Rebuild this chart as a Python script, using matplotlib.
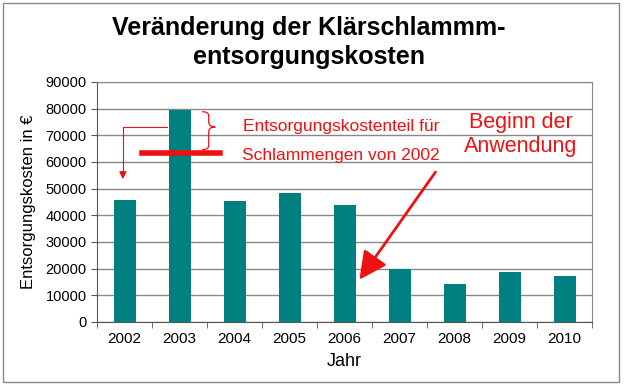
import matplotlib.pyplot as plt
from matplotlib.patches import Rectangle, PathPatch
from matplotlib.path import Path

plt.rcParams['font.family'] = ['Liberation Sans', 'DejaVu Sans']

years = ['2002', '2003', '2004', '2005', '2006', '2007', '2008', '2009', '2010']
costs = [45700, 79500, 45400, 48400, 43900, 19900, 14200, 18700, 17200]
share_2002 = 63300

fig = plt.figure(figsize=(6.3, 3.86), dpi=100)
fig.patches.append(Rectangle((0.004, 0.01), 0.978, 0.983, transform=fig.transFigure,
                             fill=False, edgecolor='#888888', linewidth=1))
ax = fig.add_axes([0.154, 0.166, 0.786, 0.622])

x = range(len(years))
ax.bar(x, costs, width=0.4, color='#008080', zorder=3)

ax.set_ylim(0, 90000)
ax.set_xlim(-0.5, len(years) - 0.5)
ax.set_yticks(range(0, 90001, 10000))
ax.set_yticklabels([str(v) for v in range(0, 90001, 10000)], fontsize=10.5)
ax.set_xticks(list(x))
ax.set_xticklabels(years, fontsize=11)
ax.set_xticks([i - 0.5 for i in range(len(years) + 1)], minor=True)
ax.tick_params(axis='x', which='major', length=0, pad=7)
ax.tick_params(axis='x', which='minor', length=4, color='#555555')
ax.tick_params(axis='y', length=4, color='#555555')
ax.grid(axis='y', color='#888888', linewidth=1, zorder=0)
for side in ['top', 'right']:
    ax.spines[side].set_color('#888888')
ax.spines['left'].set_color('#555555')
ax.spines['bottom'].set_color('#555555')

ax.set_xlabel('Jahr', fontsize=13, labelpad=5)
ax.set_ylabel('Entsorgungskosten in €', fontsize=12, labelpad=7)
fig.text(0.49, 0.928, 'Veränderung der Klärschlammm-', ha='center', va='center',
         fontsize=18, fontweight='bold')
fig.text(0.49, 0.852, 'entsorgungskosten', ha='center', va='center',
         fontsize=18, fontweight='bold')

red = '#ee1111'
# share of 2003 costs attributable to 2002 sludge volume
ax.plot([0.32, 1.74], [share_2002, share_2002], color=red, linewidth=4, zorder=4)

# curly brace next to the 2003 bar
bx0, bx1, btop, bmid, bbot = 1.41, 1.65, 78800, 73100, 64600
brace = Path([(bx0, btop), (bx0 + 0.12, btop), (bx0 + 0.12, btop - 1500), (bx0 + 0.12, bmid + 1800),
              (bx0 + 0.12, bmid), (bx1, bmid),
              (bx0 + 0.12, bmid), (bx0 + 0.12, bmid - 1800), (bx0 + 0.12, bbot + 1500),
              (bx0 + 0.12, bbot), (bx0, bbot)],
             [Path.MOVETO, Path.CURVE3, Path.CURVE3, Path.LINETO,
              Path.CURVE3, Path.CURVE3,
              Path.CURVE3, Path.CURVE3, Path.LINETO,
              Path.CURVE3, Path.CURVE3])
ax.add_patch(PathPatch(brace, fill=False, edgecolor=red, linewidth=0.9, zorder=4))

ax.plot([0.77, -0.03, -0.03], [73100, 73100, 55000], color=red, linewidth=0.8, zorder=4)
ax.annotate('', xy=(-0.03, 52500), xytext=(-0.03, 56000),
            arrowprops=dict(arrowstyle='-|>', color=red, lw=0.8, mutation_scale=11))
ax.text(3.94, 73100, 'Entsorgungskostenteil für', color=red, fontsize=12.5,
        ha='center', va='center')
ax.text(3.94, 62250, 'Schlammengen von 2002', color=red, fontsize=12.5,
        ha='center', va='center')

ax.text(7.2, 74800, 'Beginn der', color=red, fontsize=15.5, ha='center', va='center')
ax.text(7.2, 65800, 'Anwendung', color=red, fontsize=15.5, ha='center', va='center')
ax.annotate('', xy=(4.24, 15000), xytext=(5.68, 57000),
            arrowprops=dict(arrowstyle='-|>', color=red, lw=2, mutation_scale=42),
            zorder=5)

fig.savefig('out.png', dpi=100)
